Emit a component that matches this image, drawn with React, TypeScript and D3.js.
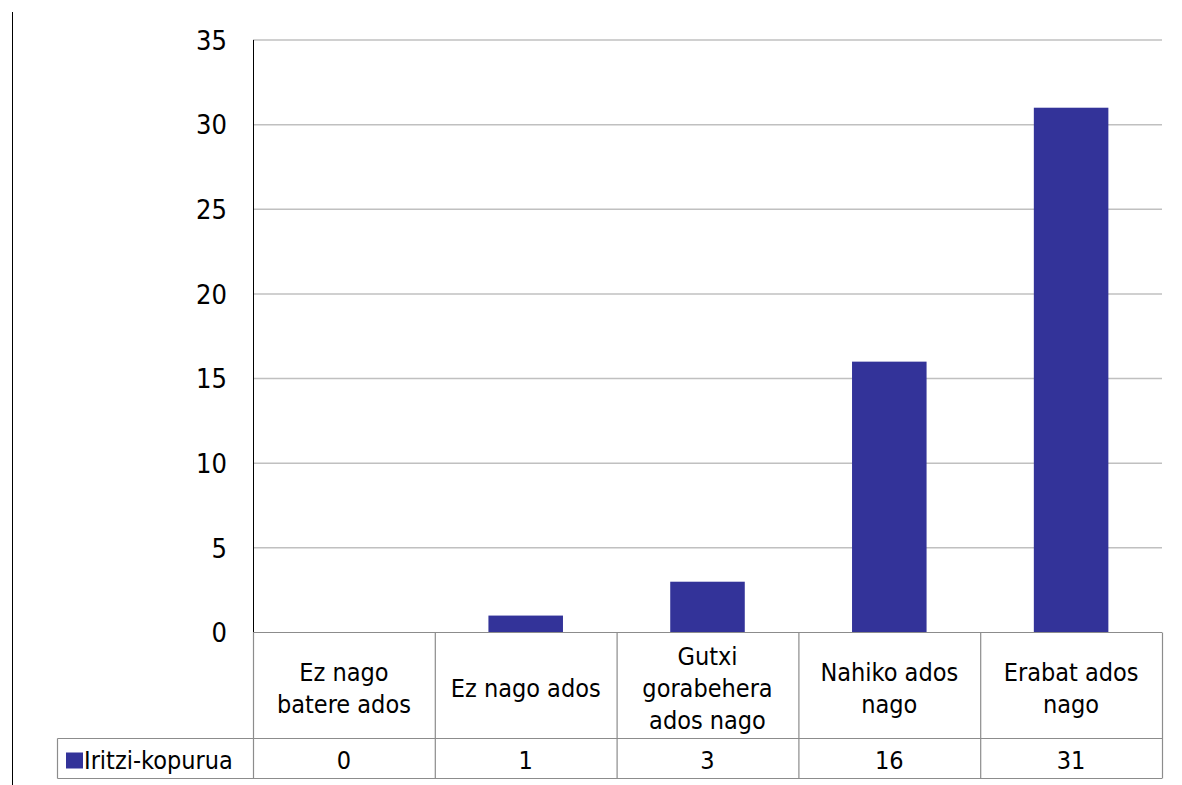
import React, { useRef, useEffect } from 'react';
import * as d3 from 'd3';

const categories = [
  ['Ez nago', 'batere ados'],
  ['Ez nago ados'],
  ['Gutxi', 'gorabehera', 'ados nago'],
  ['Nahiko ados', 'nago'],
  ['Erabat ados', 'nago'],
];
const values = [0, 1, 3, 16, 31];
const seriesName = 'Iritzi-kopurua';
const yTicks = [0, 5, 10, 15, 20, 25, 30, 35];

const W = 1182;
const H = 785;
const FONT = '"DejaVu Sans Condensed", "DejaVu Sans", sans-serif';

const App: React.FC = () => {
  const svgRef = useRef<SVGSVGElement>(null);

  useEffect(() => {
    if (!svgRef.current) return;
    const svg = d3.select(svgRef.current);
    svg.selectAll('*').remove();

    const left = 253;
    const right = 1162;
    const top = 40;
    const base = 632.5;
    const catBottom = 738.5;
    const legBottom = 778.5;
    const legLeft = 57.5;

    const x = d3.scaleBand<number>().domain(d3.range(values.length)).range([left, right]).padding(0);
    const y = d3.scaleLinear().domain([0, 35]).range([base, top]);

    // outer frame line on the left
    svg.append('line')
      .attr('x1', 12.5).attr('x2', 12.5).attr('y1', 12).attr('y2', H)
      .attr('stroke', '#000').attr('stroke-width', 1);

    // gridlines
    svg.append('g').selectAll('line')
      .data(yTicks.filter(t => t > 0))
      .join('line')
      .attr('x1', left).attr('x2', right)
      .attr('y1', d => y(d)).attr('y2', d => y(d))
      .attr('stroke', '#c0c0c0').attr('stroke-width', 1.5);

    // tick labels
    svg.append('g').selectAll('text')
      .data(yTicks)
      .join('text')
      .attr('x', 227)
      .attr('y', d => y(d))
      .attr('dy', '0.36em')
      .attr('text-anchor', 'end')
      .attr('font-family', FONT)
      .attr('font-size', 27)
      .attr('fill', '#000')
      .text(d => d);

    // bars
    const bw = x.bandwidth() * 0.41;
    svg.append('g').selectAll('rect')
      .data(values)
      .join('rect')
      .attr('x', (_, i) => (x(i) as number) + x.bandwidth() / 2 - bw / 2)
      .attr('width', bw)
      .attr('y', d => y(d))
      .attr('height', d => base - y(d))
      .attr('fill', '#333399');

    // y axis line
    svg.append('line')
      .attr('x1', left + 0.5).attr('x2', left + 0.5).attr('y1', top).attr('y2', base)
      .attr('stroke', '#000').attr('stroke-width', 1);

    // data table
    const tbl = svg.append('g').attr('stroke', '#8c8c8c').attr('stroke-width', 1.2);
    tbl.append('line').attr('x1', left).attr('x2', right).attr('y1', base).attr('y2', base);
    tbl.append('line').attr('x1', legLeft).attr('x2', right).attr('y1', catBottom).attr('y2', catBottom);
    tbl.append('line').attr('x1', legLeft).attr('x2', right).attr('y1', legBottom).attr('y2', legBottom);
    tbl.append('line').attr('x1', legLeft).attr('x2', legLeft).attr('y1', catBottom).attr('y2', legBottom);
    const bounds = d3.range(values.length + 1).map(i => (i < values.length ? (x(i) as number) : right));
    tbl.selectAll('line.col')
      .data(bounds)
      .join('line')
      .attr('class', 'col')
      .attr('x1', d => d + 0.5).attr('x2', d => d + 0.5)
      .attr('y1', base).attr('y2', legBottom);

    // category labels
    const lh = 32;
    const catMid = (base + catBottom) / 2 + 2;
    categories.forEach((lines, i) => {
      const cx = (x(i) as number) + x.bandwidth() / 2;
      const t = svg.append('text')
        .attr('text-anchor', 'middle')
        .attr('font-family', FONT)
        .attr('font-size', 25)
        .attr('fill', '#000');
      lines.forEach((ln, j) => {
        t.append('tspan')
          .attr('x', cx)
          .attr('y', catMid + (j - (lines.length - 1) / 2) * lh)
          .attr('dy', '0.36em')
          .text(ln);
      });
    });

    // legend row
    const legMid = (catBottom + legBottom) / 2;
    svg.append('rect')
      .attr('x', 66).attr('y', legMid - 6).attr('width', 17).attr('height', 16)
      .attr('fill', '#333399');
    svg.append('text')
      .attr('x', 84).attr('y', legMid + 1)
      .attr('dy', '0.36em')
      .attr('font-family', FONT)
      .attr('font-size', 25)
      .text(seriesName);

    svg.append('g').selectAll('text')
      .data(values)
      .join('text')
      .attr('x', (_, i) => (x(i) as number) + x.bandwidth() / 2)
      .attr('y', legMid + 1)
      .attr('dy', '0.36em')
      .attr('text-anchor', 'middle')
      .attr('font-family', FONT)
      .attr('font-size', 25)
      .text(d => d);
  }, []);

  return (
    <svg
      ref={svgRef}
      width={W}
      height={H}
      style={{ position: 'absolute', left: 0, top: 0, background: '#fff' }}
    />
  );
};

export default App;
